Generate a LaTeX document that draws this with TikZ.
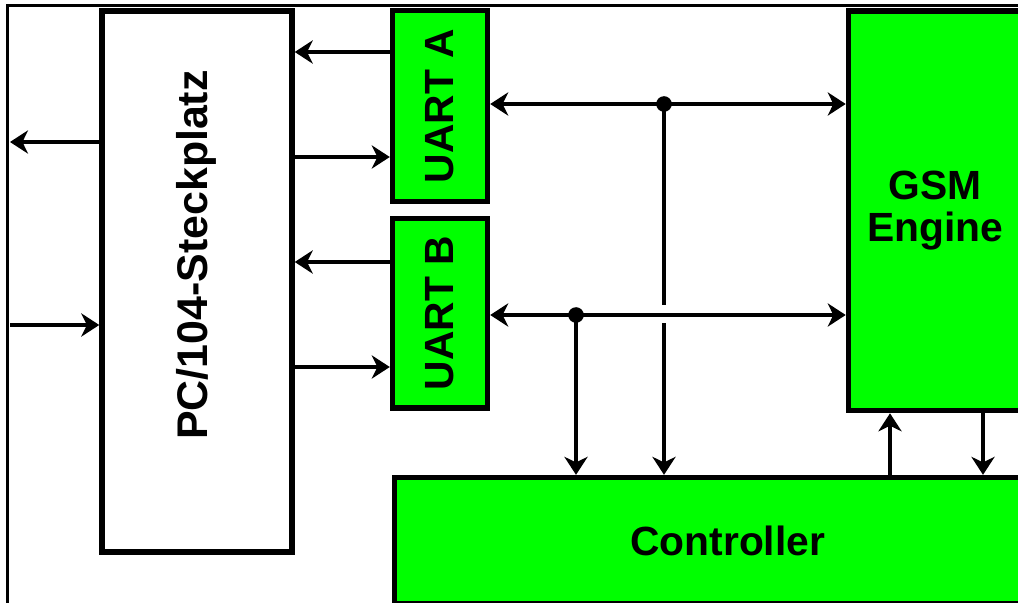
\documentclass[tikz,border=0pt]{standalone}
\usepackage{fontspec}
\setmainfont{Liberation Sans}
\usetikzlibrary{arrows.meta}
\definecolor{gsmgreen}{RGB}{0,255,0}

\begin{document}
\begin{tikzpicture}[
    x=0.025cm, y=-0.025cm,
    font=\fontsize{29}{29.5}\selectfont\bfseries,
    >={Stealth[length=0.45cm, width=0.58cm, inset=0.14cm]},
    wire/.style={line width=0.12cm},
    box/.style={
        rectangle,
        draw=black,
        line width=0.135cm,
        inner sep=0pt,
        align=center,
        fill=#1
    },
    junction/.style={circle, fill=black, inner sep=0pt, minimum size=0.39cm}
]

\useasboundingbox (0,0) rectangle (1018,603);
\clip (0,0) rectangle (1018,603);

% === FRAME ===
\draw [line width=0.055cm] (7.5,603) -- (7.5,5.5) -- (1018,5.5);

% === BLOCKS ===
\node (pc) [box=white, minimum width=4.75cm, minimum height=13.525cm] at (197,281.5) {};
\node (pclabel) [rotate=90, font=\fontsize{30.5}{31}\selectfont\bfseries] at (196,255) {PC/104-Steckplatz};

\node (uarta) [box=gsmgreen, minimum width=2.375cm, minimum height=4.775cm] at (440,106) {\rotatebox{90}{UART A}};
\node (uartb) [box=gsmgreen, minimum width=2.375cm, minimum height=4.74cm] at (440,313.25) {\rotatebox{90}{UART B}};

\node (gsm) [box=gsmgreen, minimum width=4.34cm, minimum height=9.99cm] at (935.25,210.75) {GSM\\Engine};
\node (ctrl) [box=gsmgreen, minimum width=16.66cm, minimum height=3.16cm] at (727.75,540.75) {Controller};

% === PC/104 SIDE ===
\coordinate (busout) at (10,142);
\coordinate (busin) at (10,325);
\draw [wire, ->] (pc.west |- busout) -- (busout);
\draw [wire, ->] (busin) -- (pc.west |- busin);

\draw [wire, ->] (uarta.west |- 0,52) -- (pc.east |- 0,52);
\draw [wire, ->] (pc.east |- 0,157) -- (uarta.west |- 0,157);
\draw [wire, ->] (uartb.west |- 0,262) -- (pc.east |- 0,262);
\draw [wire, ->] (pc.east |- 0,367) -- (uartb.west |- 0,367);

% === SERIAL LINES TO GSM ENGINE ===
\draw [wire, <->] (uarta.east |- 0,104) -- (gsm.west |- 0,104);
\draw [wire, <->] (uartb.east |- 0,315) -- (gsm.west |- 0,315);

\node (ja) [junction] at (664,104) {};
\node (jb) [junction] at (576,315) {};

% line A hops over line B
\coordinate (hoptop) at (664,305);
\coordinate (hopbot) at (664,323);
\draw [wire] (ja.center) -- (hoptop);
\draw [wire, ->] (hopbot) -- (hopbot |- ctrl.north);
\draw [wire, ->] (jb.center) -- (jb |- ctrl.north);

% === CONTROLLER <-> GSM ENGINE ===
\draw [wire, ->] (ctrl.north -| 890,0) -- (gsm.south -| 890,0);
\draw [wire, ->] (gsm.south -| 983,0) -- (ctrl.north -| 983,0);

\end{tikzpicture}
\end{document}
